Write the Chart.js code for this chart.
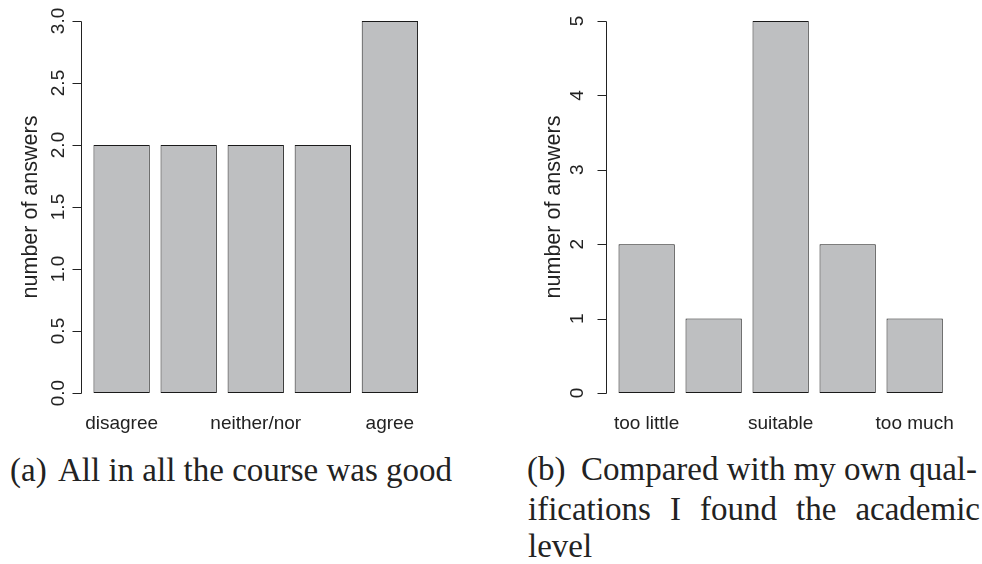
<!DOCTYPE html>
<html>
<head>
<meta charset="utf-8">
<script src="https://cdn.jsdelivr.net/npm/chart.js@4.4.0/dist/chart.umd.min.js"></script>
<style>
  body { margin: 0; background: #fff; width: 982px; height: 564px; position: relative; overflow: hidden; }
  canvas { position: absolute; top: 0; }
  .cap { position: absolute; font-family: "Liberation Serif", "Times New Roman", serif; font-size: 33px; line-height: 33px; color: #222; white-space: nowrap; }
  .just { text-align: justify; text-align-last: justify; }
</style>
</head>
<body>
<canvas id="chartA" width="491" height="440" style="left:0"></canvas>
<canvas id="chartB" width="491" height="440" style="left:491px"></canvas>

<div class="cap" style="left:10px; top:454px">(a)</div>
<div class="cap" style="left:58px; top:454px">All in all the course was good</div>

<div class="cap" style="left:527px; top:453px">(b)</div>
<div class="cap just" style="left:581px; top:453px; width:382px">Compared with my own qual-</div>
<div class="cap just" style="left:528px; top:493px; width:452px">ifications I found the academic</div>
<div class="cap" style="left:528px; top:530px">level</div>

<script>
const goodCategories = ['disagree', '', 'neither/nor', '', 'agree'];
const goodAnswers = [2, 2, 2, 2, 3];
const goodTicks = [0, 0.5, 1, 1.5, 2, 2.5, 3];
const goodTickLabels = ['0.0', '0.5', '1.0', '1.5', '2.0', '2.5', '3.0'];

const levelCategories = ['too little', '', 'suitable', '', 'too much'];
const levelAnswers = [2, 1, 5, 2, 1];
const levelTicks = [0, 1, 2, 3, 4, 5];
const levelTickLabels = ['0', '1', '2', '3', '4', '5'];

const yTitle = 'number of answers';
const sansFont = '"Liberation Sans", Arial, Helvetica, sans-serif';

// R-style axes: y axis only spans the tick range, labels turned parallel to it
const rAxis = {
  id: 'rAxis',
  afterDatasetsDraw(chart, args, opts) {
    const { ctx, chartArea, scales: { x, y } } = chart;
    const ax = Math.round(chartArea.left - 7) + 0.5;
    const t0 = y.getPixelForValue(opts.ticks[0]);
    const t1 = y.getPixelForValue(opts.ticks[opts.ticks.length - 1]);

    ctx.save();
    ctx.strokeStyle = '#222';
    ctx.lineWidth = 1;
    ctx.beginPath();
    ctx.moveTo(ax, Math.round(t0) + 0.5);
    ctx.lineTo(ax, Math.round(t1) + 0.5);
    opts.ticks.forEach(v => {
      const p = Math.round(y.getPixelForValue(v)) + 0.5;
      ctx.moveTo(ax, p);
      ctx.lineTo(ax - 9, p);
    });
    ctx.stroke();

    ctx.fillStyle = '#222';
    ctx.textAlign = 'center';
    ctx.textBaseline = 'alphabetic';
    ctx.font = '19px ' + sansFont;
    opts.ticks.forEach((v, i) => {
      ctx.save();
      ctx.translate(opts.labelX, y.getPixelForValue(v));
      ctx.rotate(-Math.PI / 2);
      ctx.fillText(opts.tickLabels[i], 0, 0);
      ctx.restore();
    });

    ctx.save();
    ctx.translate(opts.titleX, (t0 + t1) / 2);
    ctx.rotate(-Math.PI / 2);
    ctx.font = '21.5px ' + sansFont;
    ctx.fillText(yTitle, 0, 0);
    ctx.restore();

    ctx.font = '19px ' + sansFont;
    opts.categories.forEach((c, i) => {
      if (c) ctx.fillText(c, x.getPixelForValue(i), 429);
    });
    ctx.restore();
  }
};

function makeChart(id, categories, values, yMin, yMax, ticks, tickLabels, padding, labelX, titleX) {
  return new Chart(document.getElementById(id), {
    type: 'bar',
    data: {
      labels: categories,
      datasets: [{
        data: values,
        backgroundColor: '#bebfc1',
        borderColor: '#1a1a1a',
        borderWidth: 1,
        borderSkipped: false,
        barPercentage: 0.84,
        categoryPercentage: 1
      }]
    },
    options: {
      responsive: false,
      animation: false,
      layout: { padding: padding },
      scales: {
        x: { display: false },
        y: { display: false, min: yMin, max: yMax }
      },
      plugins: {
        legend: { display: false },
        tooltip: { enabled: false },
        rAxis: { ticks: ticks, tickLabels: tickLabels, categories: categories, labelX: labelX, titleX: titleX }
      }
    },
    plugins: [rAxis]
  });
}

makeChart('chartA', goodCategories, goodAnswers, -0.12, 3.12, goodTicks, goodTickLabels,
  { left: 88.1, right: 67.6, top: 6.1, bottom: 32.1 }, 63.5, 37);
makeChart('chartB', levelCategories, levelAnswers, -0.2, 5.2, levelTicks, levelTickLabels,
  { left: 122.15, right: 33.85, top: 6.1, bottom: 32.1 }, 92, 69);
</script>
</body>
</html>
